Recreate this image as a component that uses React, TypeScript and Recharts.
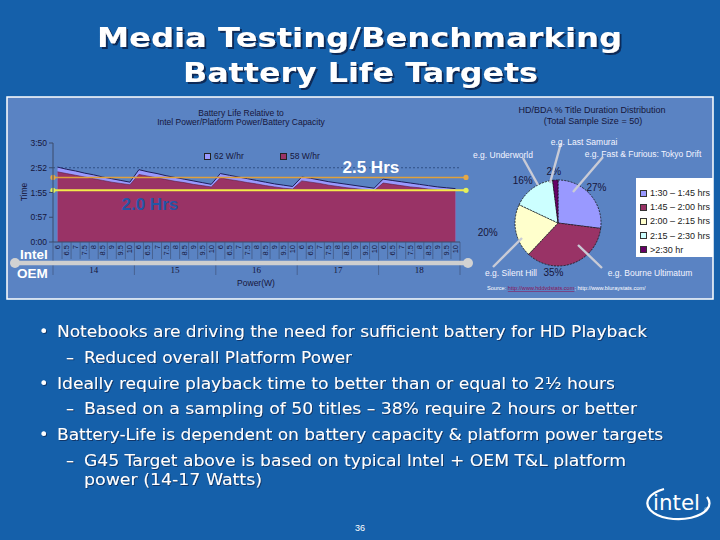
import {
  ComposedChart,
  Area,
  XAxis,
  YAxis,
  ReferenceLine,
  CartesianGrid,
  Legend,
  PieChart,
  Pie,
  Cell,
} from "recharts";

// ---- battery life chart data (minutes) ----
const PLATFORM_W = ["14", "15", "16", "17", "18"];
const OEM_W = ["6", "6.5", "7", "7.5", "8", "8.5", "9", "9.5", "10"];

const LIFE_62 = [
  174, 169, 165, 160, 156, 151, 147, 143, 139,
  168, 163, 159, 154, 150, 146, 142, 138, 134,
  159, 155, 151, 147, 143, 139, 135, 132, 129,
  151, 148, 144, 140, 137, 134, 131, 128, 125,
  146, 143, 140, 137, 134, 131, 128, 126, 124,
];
const LIFE_58 = [
  163, 159, 155, 151, 147, 143, 139, 136, 133,
  157, 153, 149, 145, 141, 138, 134, 131, 128,
  149, 145, 142, 138, 135, 131, 128, 125, 123,
  142, 139, 136, 132, 129, 126, 124, 121, 119,
  137, 134, 131, 128, 126, 123, 121, 120, 119,
];

const TIME_TICKS = [0, 57.5, 115, 172.5, 230];
const TIME_LABELS = ["0:00", "0:57", "1:55", "2:52", "3:50"];
const TARGET_25 = 150; // 2.5 hrs
const TARGET_20 = 120; // 2.0 hrs

// ---- title duration pie data ----
const DURATION_BINS = ["1:30 – 1:45 hrs", "1:45 – 2:00 hrs", "2:00 – 2:15 hrs", "2:15 – 2:30 hrs", ">2:30 hr"];
const DURATION_PCT = [27, 35, 20, 16, 2];
const PIE_COLORS = ["#9999ff", "#993366", "#ffffcc", "#ccffff", "#660066"];
// percent label placement: angular nudge (deg, clockwise) and distance from centre
const PCT_NUDGE = [
  { da: -1, r: 52 },
  { da: 25, r: 50 },
  { da: 3, r: 71 },
  { da: -4, r: 55 },
  { da: -1, r: 52 },
];

const BULLETS = [
  "Notebooks are driving the need for sufficient battery for HD Playback",
  "Reduced overall Platform Power",
  "Ideally require playback time to better than or equal to 2½ hours",
  "Based on a sampling of 50 titles – 38% require 2 hours or better",
  "Battery-Life is dependent on battery capacity & platform power targets",
  "G45 Target above is based on typical Intel + OEM T&L platform",
  "power (14-17 Watts)",
];

const areaData = PLATFORM_W.flatMap((p, gi) =>
  OEM_W.map((o, oi) => ({
    key: `${p}|${o}`,
    w62: LIFE_62[gi * OEM_W.length + oi],
    w58: LIFE_58[gi * OEM_W.length + oi],
  }))
);

const pieData = DURATION_BINS.map((bin, i) => ({ bin, pct: DURATION_PCT[i] }));

const SLIDE_BG = "#1560aa";
const PANEL_BG = "#5a83c3";
const INK = "#16163a";
const CHART_FONT = "'Liberation Sans', Arial, sans-serif";
const SLIDE_FONT = "'DejaVu Sans', Verdana, sans-serif";

// chart geometry
const CH_W = 470;
const CH_H = 203;
const PLOT_L = 53;
const PLOT_R = 460;
const BW = (PLOT_R - PLOT_L) / areaData.length;

function XTick(props: any) {
  const { x, y, payload, index } = props;
  const [grp, oem] = String(payload.value).split("|");
  const i = OEM_W.indexOf(oem);
  const left = x - BW / 2;
  const last = index === areaData.length - 1;
  return (
    <g>
      <line x1={left} y1={y} x2={left} y2={y + (i === 0 ? 33 : 17)} stroke="#41557c" strokeWidth={0.7} />
      {last && <line x1={x + BW / 2} y1={y} x2={x + BW / 2} y2={y + 33} stroke="#41557c" strokeWidth={0.7} />}
      <text
        transform={`translate(${x},${y + 3}) rotate(-90)`}
        textAnchor="end"
        dominantBaseline="central"
        fontSize={7.5}
        fontFamily={CHART_FONT}
        fill={INK}
      >
        {oem}
      </text>
      {i === 4 && (
        <text x={x} y={y + 31} textAnchor="middle" fontSize={9} fontFamily="'Liberation Serif', serif" fill={INK}>
          {grp}
        </text>
      )}
    </g>
  );
}

const targetShape = (color: string, dot: string, width: number) => (p: any) => (
  <g>
    <line x1={p.x1} y1={p.y1} x2={p.x2 + 6} y2={p.y2} stroke={color} strokeWidth={width} />
    <circle cx={p.x1} cy={p.y1} r={2.6} fill={dot} />
    <circle cx={p.x2 + 6} cy={p.y2} r={2.6} fill={dot} />
  </g>
);

const AreaLegend = () => (
  <div style={{ display: "flex", fontFamily: CHART_FONT, fontSize: 8.5, color: INK, whiteSpace: "nowrap" }}>
    {[
      { name: "62 W/hr", color: "#9999ff" },
      { name: "58 W/hr", color: "#993366" },
    ].map((s) => (
      <div key={s.name} style={{ display: "flex", alignItems: "center", width: 76 }}>
        <span style={{ width: 5, height: 5, background: s.color, border: "0.5px solid #222", marginRight: 3 }} />
        {s.name}
      </div>
    ))}
  </div>
);

const PieLegend = (props: any) => (
  <div
    style={{
      background: "#fff",
      width: 77,
      height: 79,
      boxSizing: "border-box",
      padding: "8px 0 0 4px",
      fontFamily: CHART_FONT,
      fontSize: 9,
      color: "#222",
    }}
  >
    {(props.payload || []).map((p: any, i: number) => (
      <div key={i} style={{ display: "flex", alignItems: "center", height: 14.2, whiteSpace: "nowrap" }}>
        <span
          style={{ width: 5, height: 5, background: PIE_COLORS[i], border: "0.5px solid #333", marginRight: 3 }}
        />
        {p.value}
      </div>
    ))}
  </div>
);

const renderPct = (p: any) => {
  const RAD = Math.PI / 180;
  const n = PCT_NUDGE[p.index] || { da: 0, r: p.outerRadius + 10 };
  const a = (p.midAngle - n.da) * RAD;
  const x = p.cx + n.r * Math.cos(a);
  const y = p.cy - n.r * Math.sin(a);
  return (
    <text x={x} y={y} textAnchor="middle" dominantBaseline="central" fontSize={10} fontFamily={CHART_FONT} fill={INK}>
      {`${p.value}%`}
    </text>
  );
};

function SlideText({ x, y, len, size, weight, children, shadow }: any) {
  return (
    <text
      x={x}
      y={y}
      textLength={len}
      lengthAdjust="spacingAndGlyphs"
      fontFamily={SLIDE_FONT}
      fontSize={size}
      fontWeight={weight}
      fill="#ffffff"
      filter={`url(#${shadow})`}
    >
      {children}
    </text>
  );
}

// bullet layout: [indent level, baseline, right edge]
const BULLET_LAYOUT = [
  [0, 337, 647],
  [1, 363, 352],
  [0, 389, 615],
  [1, 414, 637],
  [0, 440, 663],
  [1, 466, 626],
  [2, 485, 262],
];

export default function App() {
  return (
    <div style={{ position: "absolute", left: 0, top: 0, width: 720, height: 540, background: SLIDE_BG, overflow: "hidden" }}>
      {/* slide background, title, bullets */}
      <svg width={720} height={540} style={{ position: "absolute", left: 0, top: 0 }}>
        <defs>
          <filter id="shadowBig" x="-5%" y="-20%" width="110%" height="150%">
            <feDropShadow dx={2} dy={2} stdDeviation={0.3} floodColor="#0b2b58" floodOpacity={1} />
          </filter>
          <filter id="shadowSmall" x="-5%" y="-20%" width="110%" height="150%">
            <feDropShadow dx={1} dy={1} stdDeviation={0.3} floodColor="#0b2b58" floodOpacity={0.8} />
          </filter>
        </defs>
        <rect x={7} y={97} width={706} height={202} fill={PANEL_BG} stroke="#ffffff" strokeWidth={1.5} />
        <SlideText x={97} y={47} len={525} size={26} weight="bold" shadow="shadowBig">
          Media Testing/Benchmarking
        </SlideText>
        <SlideText x={183} y={82} len={355} size={26} weight="bold" shadow="shadowBig">
          Battery Life Targets
        </SlideText>
        {BULLETS.map((b, i) => {
          const [lvl, yb, right] = BULLET_LAYOUT[i];
          const tx = lvl === 0 ? 57 : 84;
          return (
            <g key={i}>
              {lvl === 0 && (
                <text x={39} y={yb} fontFamily={SLIDE_FONT} fontSize={16} fill="#fff" filter="url(#shadowSmall)">
                  •
                </text>
              )}
              {lvl === 1 && (
                <text x={66} y={yb} fontFamily={SLIDE_FONT} fontSize={16} fill="#fff" filter="url(#shadowSmall)">
                  –
                </text>
              )}
              <SlideText x={tx} y={yb} len={right - tx} size={16} weight="normal" shadow="shadowSmall">
                {b}
              </SlideText>
            </g>
          );
        })}
        <text x={360} y={531} textAnchor="middle" fontFamily={CHART_FONT} fontSize={9} fill="#fff">
          36
        </text>
        <g>
          <text x={653} y={510} fontFamily={SLIDE_FONT} fontSize={21} fill="#fff" textLength={47} lengthAdjust="spacingAndGlyphs">
            intel
          </text>
          <path d="M 664 489 A 31 16 0 1 0 707 497" fill="none" stroke="#fff" strokeWidth={2.2} />
          <text x={704} y={512} fontFamily={CHART_FONT} fontSize={5} fill="#fff">®</text>
        </g>
      </svg>

      {/* battery life area chart */}
      <div style={{ position: "absolute", left: 0, top: 97 }}>
        <ComposedChart width={CH_W} height={CH_H} data={areaData} margin={{ top: 46, right: CH_W - PLOT_R, left: 23, bottom: 0 }}>
          <CartesianGrid vertical={false} horizontalValues={[172.5]} stroke="#2f4f86" strokeDasharray="2 2" />
          <XAxis
            dataKey="key"
            scale="band"
            interval={0}
            height={58}
            tickSize={0}
            tickMargin={0}
            tickLine={false}
            axisLine={{ stroke: "#3a4a6a" }}
            tick={<XTick />}
          />
          <YAxis
            type="number"
            domain={[0, 230]}
            ticks={TIME_TICKS}
            interval={0}
            width={30}
            tickSize={4}
            tickMargin={2}
            axisLine={{ stroke: "#3a4a6a" }}
            tickLine={{ stroke: "#3a4a6a" }}
            tick={{ fontSize: 8.5, fill: INK, fontFamily: CHART_FONT }}
            tickFormatter={(v: number) => TIME_LABELS[TIME_TICKS.indexOf(v)]}
          />
          <Area
            type="linear"
            dataKey="w62"
            name="62 W/hr"
            fill="#9999ff"
            fillOpacity={1}
            stroke="#1e1e5a"
            strokeWidth={1}
            isAnimationActive={false}
          />
          <Area
            type="linear"
            dataKey="w58"
            name="58 W/hr"
            fill="#993366"
            fillOpacity={1}
            stroke="#5a1e40"
            strokeWidth={0.6}
            isAnimationActive={false}
          />
          <ReferenceLine
            y={TARGET_25}
            shape={targetShape("#e0a13c", "#e6a845", 1.5)}
            label={(p: any) => (
              <text
                x={p.viewBox.x + p.viewBox.width * 0.781}
                y={p.viewBox.y - 4}
                textAnchor="middle"
                fontFamily={CHART_FONT}
                fontWeight="bold"
                fontSize={17}
                fill="#ffffff"
              >
                2.5 Hrs
              </text>
            )}
          />
          <ReferenceLine
            y={TARGET_20}
            shape={targetShape("#f3ea4a", "#e4f05a", 2)}
            label={(p: any) => (
              <text
                x={p.viewBox.x + p.viewBox.width * 0.238}
                y={p.viewBox.y + 20}
                textAnchor="middle"
                fontFamily={CHART_FONT}
                fontWeight="bold"
                fontSize={17}
                fill="#2456a6"
              >
                2.0 Hrs
              </text>
            )}
          />
          <Legend
            layout="vertical"
            verticalAlign="middle"
            align="center"
            content={<AreaLegend />}
            wrapperStyle={{ left: 204, top: 54, width: 160, height: 12 }}
          />
        </ComposedChart>
      </div>

      {/* title duration pie */}
      <div style={{ position: "absolute", left: 462, top: 97 }}>
        <PieChart width={251} height={203}>
          <Pie
            data={pieData}
            dataKey="pct"
            nameKey="bin"
            cx={91}
            cy={121}
            outerRadius={43}
            startAngle={90}
            endAngle={-270}
            stroke="#111"
            strokeWidth={0.8}
            strokeDasharray="2 1.2"
            label={renderPct}
            labelLine={false}
            isAnimationActive={false}
          >
            {pieData.map((d, i) => (
              <Cell key={d.bin} fill={PIE_COLORS[i]} />
            ))}
          </Pie>
          <Legend
            layout="vertical"
            verticalAlign="middle"
            align="center"
            content={<PieLegend />}
            wrapperStyle={{ left: 174, top: 81, width: 77, height: 79 }}
          />
        </PieChart>
      </div>

      {/* chart annotations */}
      <svg width={720} height={540} style={{ position: "absolute", left: 0, top: 0, pointerEvents: "none" }}>
        <g fontFamily={CHART_FONT} fill={INK} textAnchor="middle">
          <text x={241} y={116} fontSize={8.5}>Battery Life Relative to</text>
          <text x={241} y={125} fontSize={8.5}>Intel Power/Platform Power/Battery Capacity</text>
          <text x={256} y={286} fontSize={8.5}>Power(W)</text>
          <text transform="translate(27,192) rotate(-90)" fontSize={8.5}>Time</text>
          <text x={592} y={113} fontSize={9}>HD/BDA % Title Duration Distribution</text>
          <text x={593} y={124} fontSize={9}>(Total Sample Size = 50)</text>
        </g>

        <line x1={15} y1={263} x2={468} y2={263} stroke="#cfcfcf" strokeWidth={4.5} />
        <circle cx={15} cy={263} r={5} fill="#d2d2d2" />
        <circle cx={468} cy={263} r={5} fill="#d2d2d2" />
        <g fontFamily={CHART_FONT} fontWeight="bold" fontSize={13.5} fill="#fff">
          <text x={20} y={259}>Intel</text>
          <text x={17} y={278}>OEM</text>
        </g>

        <g stroke="#c9cbd6" strokeWidth={2.4}>
          <line x1={523} y1={158} x2={538} y2={185} />
          <line x1={561} y1={143} x2={550} y2={183} />
          <line x1={603} y1={157} x2={573} y2={192} />
          <line x1={493} y1={267} x2={522} y2={238} />
          <line x1={578} y1={245} x2={602} y2={268} />
        </g>
        <g fontFamily={CHART_FONT} fontSize={8.5} fill="#f4f4ff" textAnchor="middle">
          <text x={503} y={158}>e.g. Underworld</text>
          <text x={584} y={145}>e.g. Last Samurai</text>
          <text x={643} y={157}>e.g. Fast &amp; Furious: Tokyo Drift</text>
          <text x={511} y={276}>e.g. Silent Hill</text>
          <text x={650} y={276}>e.g. Bourne Ultimatum</text>
        </g>
        <text x={487} y={290} fontFamily={CHART_FONT} fontSize={5.6} fill="#fff">
          Source:{" "}
          <tspan fill="#8a1458" textDecoration="underline">
            http://www.hddvdstats.com
          </tspan>
          ; http://www.bluraystats.com/
        </text>
      </svg>
    </div>
  );
}
